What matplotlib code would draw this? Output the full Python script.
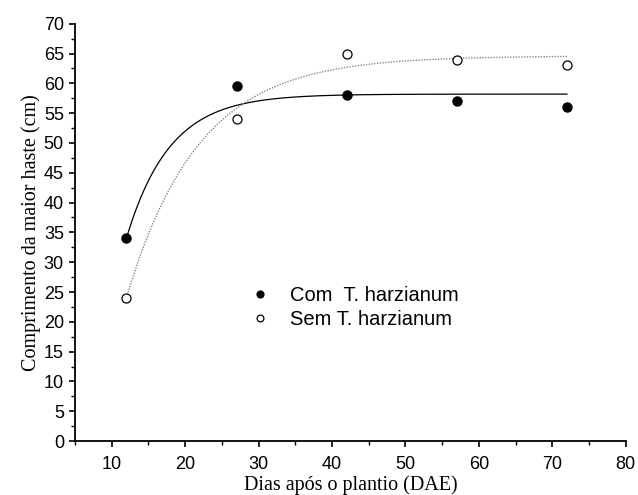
import numpy as np
import matplotlib
matplotlib.use('Agg')
import matplotlib.pyplot as plt
from matplotlib.ticker import MultipleLocator

# Dados
dias = [12, 27, 42, 57, 72]
com_trich = [34, 59.5, 58, 57, 56]
sem_trich = [24, 54, 65, 64, 63]

# Coeficientes das curvas ajustadas: y = a - b*exp(-c*x)
coef_com = [58.2, 186.0, 0.17]
coef_sem = [64.6, 138.0, 0.102]


def curva(x, coef):
    a, b, c = coef
    return a - b * np.exp(-c * x)


fig = plt.figure(figsize=(6.38, 4.95), dpi=100)
ax = fig.add_axes([0.1176, 0.109, 0.8631, 0.843])

xs = np.linspace(min(dias), max(dias), 300)
ax.plot(xs, curva(xs, coef_com), color='black', lw=0.9)
ax.plot(xs, curva(xs, coef_sem), color='#888888', lw=1.0, ls=(0, (1, 1)))

ax.plot(dias, com_trich, 'o', color='black', ms=6.5, label='Com  T. harzianum')
ax.plot(dias, sem_trich, 'o', mfc='white', mec='black', mew=0.9, ms=6.5,
        label='Sem T. harzianum')

ax.set_xlim(5, 80)
ax.set_ylim(0, 70)
ax.xaxis.set_major_locator(MultipleLocator(10))
ax.xaxis.set_minor_locator(MultipleLocator(5))
ax.yaxis.set_major_locator(MultipleLocator(5))
ax.yaxis.set_minor_locator(MultipleLocator(2.5))
ax.tick_params(which='major', direction='out', length=4.5, width=1.2,
               labelsize=13)
ax.tick_params(axis='x', which='major', pad=6)
ax.tick_params(which='minor', direction='out', length=3, width=1.0)
for lab in ax.get_xticklabels() + ax.get_yticklabels():
    lab.set_family('Liberation Sans')
ax.spines['top'].set_visible(False)
ax.spines['right'].set_visible(False)
ax.spines['left'].set_linewidth(1.3)
ax.spines['bottom'].set_linewidth(1.3)

ax.set_xlabel('Dias após o plantio (DAE)', family='Liberation Serif',
              fontsize=14.5, labelpad=2)
ax.set_ylabel('Comprimento da maior haste (cm)', family='Liberation Serif',
              fontsize=14.5, labelpad=2)

leg = ax.legend(loc='center left', bbox_to_anchor=(0.285, 0.32), frameon=False,
                prop={'family': 'Liberation Sans', 'size': 14.5},
                handletextpad=1.0, labelspacing=0.27, handlelength=1.0,
                markerscale=0.75)

fig.savefig('out.png', dpi=100)
